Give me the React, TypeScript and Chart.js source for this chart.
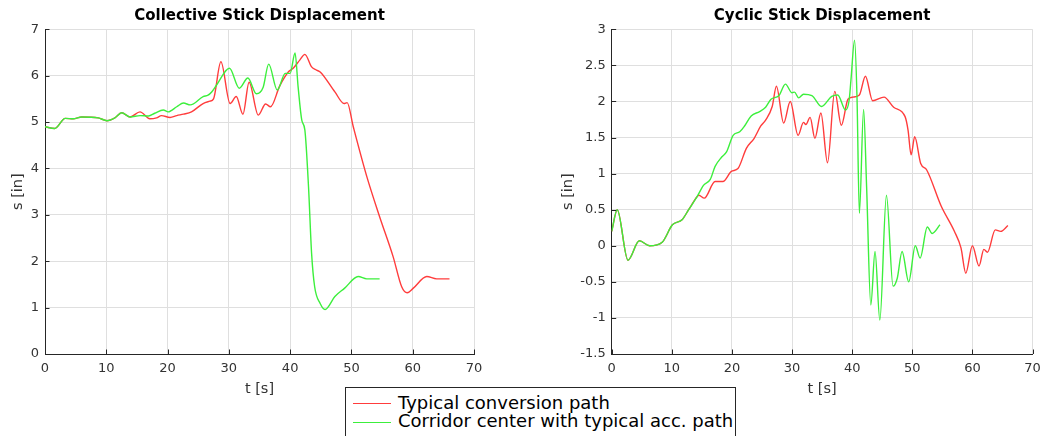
import React, { useEffect, useRef } from "react";
import { Chart, registerables } from "chart.js";

Chart.register(...registerables);

// ---- data: time [s] and stick displacement [in] ----
const timeTicks = [0, 10, 20, 30, 40, 50, 60, 70];
const collectiveTicks = [0, 1, 2, 3, 4, 5, 6, 7];
const cyclicTicks = [-1.5, -1, -0.5, 0, 0.5, 1, 1.5, 2, 2.5, 3];

const collectiveTypicalT = [
  0, 1.6, 3.3, 4.6, 6.0, 8.7, 10.1, 11.4, 12.5, 13.9, 15.5, 17.1, 18.2, 19.0,
  20.4, 21.5, 22.6, 23.9, 25.8, 26.9, 27.5, 28.7, 30.2, 31.2, 32.3, 33.3, 34.8,
  36.0, 36.8, 38.3, 39.7, 40.5, 41.6, 42.4, 43.5, 44.3, 44.9, 47.3, 48.8, 49.3,
  50.3, 52.5, 54.6, 56.8, 58.2, 59.1, 60.1, 62.3, 63.9, 66.0,
];
const collectiveTypicalS = [
  4.9, 4.86, 5.08, 5.07, 5.11, 5.09, 5.03, 5.09, 5.2, 5.11, 5.22, 5.07, 5.09,
  5.14, 5.1, 5.14, 5.17, 5.22, 5.4, 5.45, 5.5, 6.3, 5.4, 5.55, 5.17, 5.86, 5.15,
  5.39, 5.33, 5.78, 6.08, 6.16, 6.34, 6.46, 6.19, 6.12, 6.08, 5.65, 5.4, 5.42,
  4.9, 3.83, 2.96, 2.1, 1.45, 1.32, 1.42, 1.67, 1.62, 1.62,
];

const collectiveCorridorT = [
  0, 1.6, 3.3, 4.6, 6.0, 8.7, 10.1, 11.4, 12.5, 13.9, 15.5, 16.9, 17.9, 19.3,
  20.1, 21.5, 22.6, 23.7, 25.8, 26.6, 27.2, 28.0, 30.1, 31.7, 33.1, 34.5, 35.6,
  36.5, 37.9, 39.2, 40.0, 40.8, 41.3, 41.9, 42.4, 43.0, 43.5, 44.0, 44.9, 45.7,
  47.3, 48.9, 51.1, 52.5, 54.6,
];
const collectiveCorridorS = [
  4.9, 4.86, 5.08, 5.07, 5.11, 5.09, 5.03, 5.09, 5.2, 5.11, 5.14, 5.13, 5.19,
  5.26, 5.22, 5.33, 5.41, 5.37, 5.55, 5.58, 5.65, 5.8, 6.16, 5.73, 5.95, 5.61,
  5.75, 6.25, 5.69, 6.05, 6.05, 6.49, 5.76, 5.04, 4.83, 3.6, 2.17, 1.45, 1.09,
  0.96, 1.24, 1.42, 1.67, 1.62, 1.62,
];

const cyclicTypicalT = [
  0, 0.92, 2.7, 4.6, 6.3, 8.4, 10.1, 11.7, 12.8, 14.2, 14.5, 15.4, 17.2, 18.5,
  19.9, 21.0, 22.4, 23.7, 24.8, 25.6, 26.7, 27.4, 28.6, 29.7, 31.0, 31.9, 32.3,
  33.0, 33.8, 34.8, 35.9, 37.1, 38.2, 39.3, 40.1, 41.2, 42.2, 43.4, 45.3, 46.9,
  48.8, 49.3, 49.8, 50.4, 51.4, 52.4, 54.8, 57.0, 58.1, 58.9, 60.0, 61.1, 61.9,
  62.5, 63.8, 64.7, 65.9,
];
const cyclicTypicalS = [
  0.2, 0.5, -0.2, 0.07, 0.0, 0.05, 0.29, 0.36, 0.5, 0.68, 0.7, 0.66, 0.89, 0.89,
  1.03, 1.07, 1.35, 1.49, 1.66, 1.74, 1.93, 2.21, 1.7, 2.0, 1.53, 1.71, 1.68,
  1.78, 1.49, 1.84, 1.15, 2.14, 1.67, 2.03, 2.06, 2.09, 2.35, 2.01, 2.06, 1.92,
  1.79, 1.6, 1.26, 1.51, 1.14, 1.05, 0.55, 0.2, -0.03, -0.38, 0.0, -0.28, -0.05,
  -0.09, 0.22, 0.2, 0.28,
];

const cyclicCorridorT = [
  0, 0.92, 2.7, 4.6, 6.3, 8.4, 10.1, 11.7, 12.8, 14.2, 15.3, 16.4, 17.2, 18.3,
  19.1, 20.2, 21.3, 22.1, 23.2, 24.6, 25.6, 26.5, 27.8, 28.9, 30.0, 30.4, 31.1,
  31.9, 33.3, 34.9, 36.6, 37.6, 38.9, 39.5, 39.8, 40.4, 40.8, 41.2, 41.9, 42.4,
  43.1, 43.8, 44.6, 45.7, 46.8, 47.5, 48.3, 49.4, 50.5, 51.3, 52.5, 53.3, 54.6,
];
const cyclicCorridorS = [
  0.2, 0.5, -0.2, 0.07, 0.0, 0.05, 0.29, 0.36, 0.5, 0.68, 0.84, 0.92, 1.1, 1.23,
  1.3, 1.53, 1.58, 1.66, 1.8, 1.86, 1.92, 2.03, 2.08, 2.24, 2.12, 2.13, 2.05,
  2.1, 2.08, 1.93, 2.07, 2.09, 1.88, 2.02, 2.3, 2.85, 2.07, 0.45, 1.89, 0.82,
  -0.82, -0.08, -1.03, 0.7, -0.56, -0.45, -0.08, -0.5, 0.0, -0.17, 0.26, 0.17,
  0.29,
];

const seriesNames = ["Typical conversion path", "Corridor center with typical acc. path"];

// ---- styling ----
const FONT = "'DejaVu Sans', 'Liberation Sans', sans-serif";
const AXIS = "#262626";
const GRID = "#dfdfdf";
const RED = "#ff3c3c";
const GREEN = "#3cef3c";

const toPoints = (t: number[], s: number[]) => t.map((x, i) => ({ x, y: s[i] }));

// MATLAB-style ticks pointing into the plot area
const innerTicks = {
  id: "innerTicks",
  afterDraw(chart: any) {
    const { ctx, chartArea, scales } = chart;
    ctx.save();
    ctx.strokeStyle = AXIS;
    ctx.lineWidth = 1;
    ctx.beginPath();
    scales.x.ticks.forEach((t: any) => {
      const px = Math.round(scales.x.getPixelForValue(t.value)) + 0.5;
      ctx.moveTo(px, chartArea.bottom);
      ctx.lineTo(px, chartArea.bottom - 4.5);
    });
    scales.y.ticks.forEach((t: any) => {
      const py = Math.round(scales.y.getPixelForValue(t.value)) + 0.5;
      ctx.moveTo(chartArea.left, py);
      ctx.lineTo(chartArea.left + 4.5, py);
    });
    ctx.stroke();
    ctx.restore();
  },
};

type PanelProps = {
  title: string;
  left: number;
  yTicks: number[];
  typical: { x: number; y: number }[];
  corridor: { x: number; y: number }[];
  yAxisWidth: number;
  rightPad: number;
  yTitlePad: number;
};

const CANVAS_W = 524;
const CANVAS_H = 400;
const PLOT_BOTTOM = 354;

function StickPanel(p: PanelProps) {
  const ref = useRef<HTMLCanvasElement | null>(null);

  useEffect(() => {
    if (!ref.current) return;
    const chart = new Chart(ref.current, {
      type: "line",
      data: {
        datasets: [
          {
            label: seriesNames[1],
            data: p.corridor,
            borderColor: GREEN,
            borderWidth: 1.4,
            pointRadius: 0,
            cubicInterpolationMode: "monotone",
          },
          {
            label: seriesNames[0],
            data: p.typical,
            borderColor: RED,
            borderWidth: 1.4,
            pointRadius: 0,
            cubicInterpolationMode: "monotone",
          },
        ],
      },
      options: {
        responsive: false,
        animation: false,
        devicePixelRatio: 1,
        layout: { padding: { left: 0, right: p.rightPad, top: 0, bottom: 0 } },
        plugins: {
          legend: { display: false },
          tooltip: { enabled: false },
          title: {
            display: true,
            text: p.title,
            fullSize: false,
            color: "#000",
            font: { family: FONT, size: 15, weight: "bold" },
            padding: { top: 7.5, bottom: 3.8 },
          },
        },
        scales: {
          x: {
            type: "linear",
            min: 0,
            max: 70,
            afterBuildTicks: (s: any) => {
              s.ticks = timeTicks.map((v) => ({ value: v }));
            },
            afterFit: (s: any) => {
              s.height = CANVAS_H - PLOT_BOTTOM;
            },
            grid: { color: GRID, drawTicks: false },
            border: { color: AXIS, width: 1 },
            ticks: {
              color: "#333",
              padding: 7.2,
              maxRotation: 0,
              font: { family: FONT, size: 13 },
              callback: (v: any) => String(v),
            },
            title: {
              display: true,
              text: "t [s]",
              color: "#333",
              font: { family: FONT, size: 14.5 },
              padding: { top: 0, bottom: 1.8 },
            },
          },
          y: {
            type: "linear",
            min: p.yTicks[0],
            max: p.yTicks[p.yTicks.length - 1],
            afterBuildTicks: (s: any) => {
              s.ticks = p.yTicks.map((v) => ({ value: v }));
            },
            afterFit: (s: any) => {
              s.width = p.yAxisWidth;
            },
            grid: { color: GRID, drawTicks: false },
            border: { color: AXIS, width: 1 },
            ticks: {
              color: "#333",
              padding: 6,
              font: { family: FONT, size: 13 },
              callback: (v: any) => String(v),
            },
            title: {
              display: true,
              text: "s [in]",
              color: "#333",
              font: { family: FONT, size: 14.5 },
              padding: { top: p.yTitlePad, bottom: 0 },
            },
          },
        },
      },
      plugins: [innerTicks],
    } as any);
    return () => chart.destroy();
  }, []);

  return (
    <canvas
      ref={ref}
      width={CANVAS_W}
      height={CANVAS_H}
      style={{ position: "absolute", left: p.left, top: 0, width: CANVAS_W, height: CANVAS_H }}
    />
  );
}

function Legend() {
  const row = (color: string, text: string, lineTop: number, textTop: number) => (
    <>
      <div
        style={{
          position: "absolute",
          left: 7,
          top: lineTop,
          width: 38,
          height: 1,
          background: color,
        }}
      />
      <div
        style={{
          position: "absolute",
          left: 52,
          top: textTop,
          fontFamily: FONT,
          fontSize: 18,
          lineHeight: "19px",
          color: "#000",
          whiteSpace: "nowrap",
        }}
      >
        {text}
      </div>
    </>
  );
  return (
    <div
      style={{
        position: "absolute",
        left: 345,
        top: 387,
        width: 391,
        height: 60,
        border: `1px solid ${AXIS}`,
        background: "#fff",
        boxSizing: "border-box",
      }}
    >
      {row(RED, seriesNames[0], 14.5, 4.6)}
      {row(GREEN, seriesNames[1], 34, 23)}
    </div>
  );
}

export default function App() {
  return (
    <div
      style={{
        position: "fixed",
        left: 0,
        top: 0,
        width: 1048,
        height: 436,
        overflow: "hidden",
        background: "#fff",
      }}
    >
      <StickPanel
        title="Collective Stick Displacement"
        left={0}
        yTicks={collectiveTicks}
        typical={toPoints(collectiveTypicalT, collectiveTypicalS)}
        corridor={toPoints(collectiveCorridorT, collectiveCorridorS)}
        yAxisWidth={45}
        rightPad={50}
        yTitlePad={9.8}
      />
      <StickPanel
        title="Cyclic Stick Displacement"
        left={524}
        yTicks={cyclicTicks}
        typical={toPoints(cyclicTypicalT, cyclicTypicalS)}
        corridor={toPoints(cyclicCorridorT, cyclicCorridorS)}
        yAxisWidth={87.7}
        rightPad={8.7}
        yTitlePad={35.6}
      />
      <Legend />
    </div>
  );
}
